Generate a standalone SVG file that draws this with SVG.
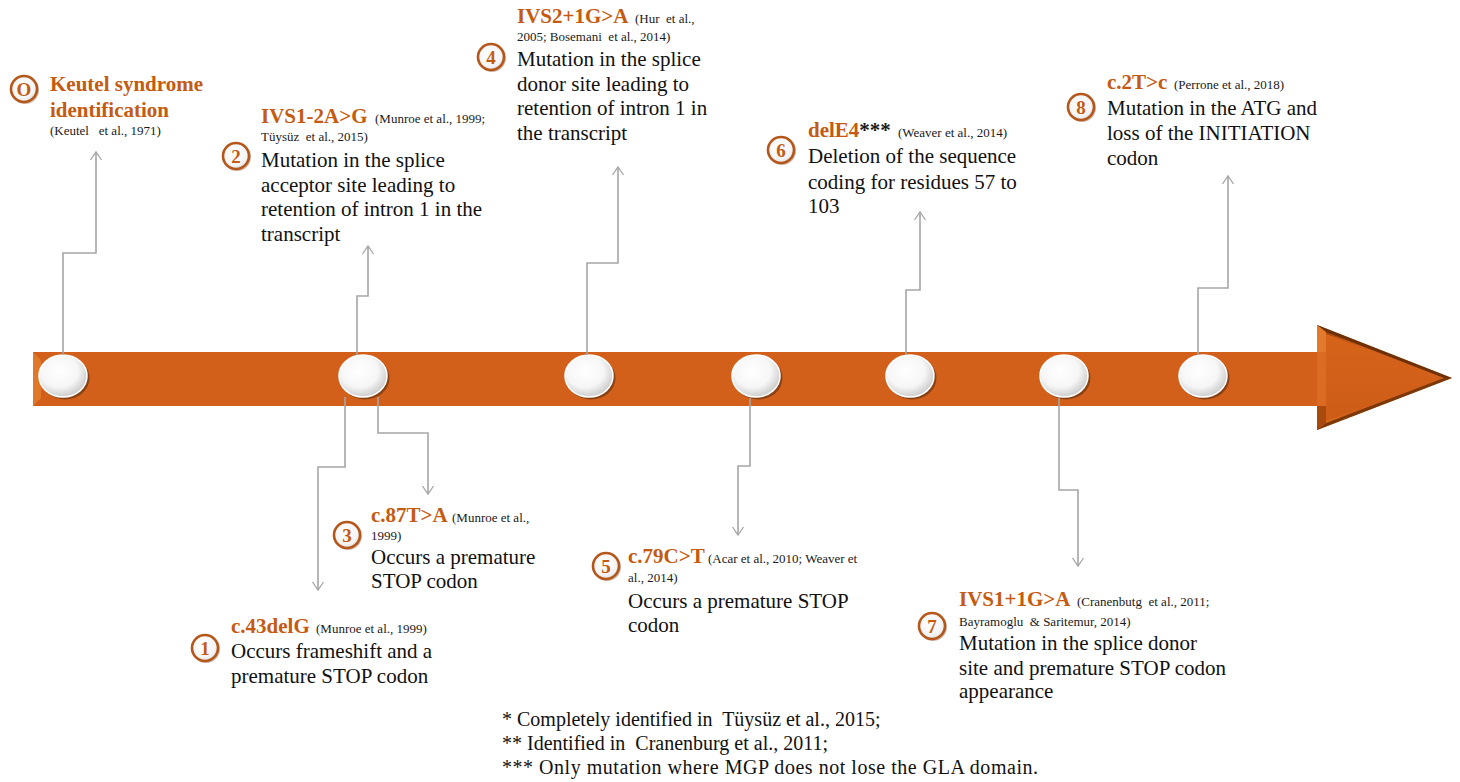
<svg xmlns="http://www.w3.org/2000/svg" width="1460" height="782" viewBox="0 0 1460 782">
<defs>
<linearGradient id="barG" x1="0" y1="0" x2="0" y2="1">
<stop offset="0" stop-color="#7A3608"/>
<stop offset="0.12" stop-color="#B9520F"/>
<stop offset="0.25" stop-color="#D2601A"/>
<stop offset="0.85" stop-color="#D2601A"/>
<stop offset="0.95" stop-color="#E0741E"/>
<stop offset="1" stop-color="#9A4510"/>
</linearGradient>
<linearGradient id="headG" x1="0" y1="0" x2="0" y2="1">
<stop offset="0" stop-color="#D66318"/>
<stop offset="0.5" stop-color="#D2601A"/>
<stop offset="1" stop-color="#CC5C16"/>
</linearGradient>
<radialGradient id="pearl" cx="0.42" cy="0.38" r="0.65">
<stop offset="0" stop-color="#FFFFFF"/>
<stop offset="0.6" stop-color="#F6F6F6"/>
<stop offset="1" stop-color="#C8C8C8"/>
</radialGradient>
<radialGradient id="badgeG" cx="0.45" cy="0.4" r="0.65">
<stop offset="0" stop-color="#FFFFFF"/>
<stop offset="0.7" stop-color="#F4F4F4"/>
<stop offset="1" stop-color="#D6D6D6"/>
</radialGradient>
<marker id="ah" markerWidth="14" markerHeight="14" viewBox="-11 -7 14 14" refX="0" refY="0" orient="auto" markerUnits="userSpaceOnUse">
<path d="M-8,-5.5 L0,0 L-8,5.5" fill="none" stroke="#A6A6A6" stroke-width="1.3"/>
</marker>
</defs>
<style>
.conn{fill:none;stroke:#A6A6A6;stroke-width:1.6;marker-end:url(#ah)}
.pearl{fill:url(#pearl);stroke:#FFFFFF;stroke-width:1.5}
.pshadow{fill:#4A2A10;opacity:0.55}
.bring{fill:url(#badgeG);stroke:#B5571A;stroke-width:2.6}
.bsh{fill:#6B3A18;opacity:0.35}
.bnum{font-family:"Liberation Serif",serif;font-weight:bold;font-size:19px;fill:#C55A11;text-anchor:middle}
.title{font-family:"Liberation Serif",serif;font-weight:bold;font-size:21px;fill:#C55A11}
.cite{font-family:"Liberation Serif",serif;font-size:13px;fill:#1A1A1A}
.body{font-family:"Liberation Serif",serif;font-size:21px;fill:#111111}
.foot{font-family:"Liberation Serif",serif;font-size:20px;fill:#111111}
</style>
<rect width="1460" height="782" fill="#FFFFFF"/>

<g id="timeline-arrow">
<path d="M33,352 H1317 V325 L1452,378 L1317,430 V406 H33 Z" fill="url(#barG)"/>
<path d="M1326,334 L1443,378 L1326,421 Z" fill="url(#headG)"/>
<path d="M1317,325 L1452,378 L1444,378 L1326,332 Z" fill="#6E3006"/>
<path d="M1317,430 L1452,378 L1444,378 L1326,423 Z" fill="#7C3808"/>
<path d="M1317,325 V352 L1326,360 V332 Z" fill="#E27A2C"/>
<path d="M1317,430 V406 L1326,398 V423 Z" fill="#A84A0E"/>
<rect x="1317" y="352" width="9" height="54" fill="#DB6A22"/>
<path d="M33,352 L41,360 V398 L33,406 Z" fill="#E0782A"/>
</g>

<g id="circles">
<ellipse class="pshadow" cx="65" cy="378" rx="24.5" ry="21.5"/>
<ellipse class="pearl" cx="63" cy="376" rx="24" ry="21"/>
<ellipse class="pshadow" cx="365" cy="378" rx="24.5" ry="21.5"/>
<ellipse class="pearl" cx="363" cy="376" rx="24" ry="21"/>
<ellipse class="pshadow" cx="591" cy="378" rx="24.5" ry="21.5"/>
<ellipse class="pearl" cx="589" cy="376" rx="24" ry="21"/>
<ellipse class="pshadow" cx="758" cy="378" rx="24.5" ry="21.5"/>
<ellipse class="pearl" cx="756" cy="376" rx="24" ry="21"/>
<ellipse class="pshadow" cx="912" cy="378" rx="24.5" ry="21.5"/>
<ellipse class="pearl" cx="910" cy="376" rx="24" ry="21"/>
<ellipse class="pshadow" cx="1066" cy="378" rx="24.5" ry="21.5"/>
<ellipse class="pearl" cx="1064" cy="376" rx="24" ry="21"/>
<ellipse class="pshadow" cx="1205" cy="378" rx="24.5" ry="21.5"/>
<ellipse class="pearl" cx="1203" cy="376" rx="24" ry="21"/>
</g>

<g id="connectors">
<path class="conn" d="M63,355 V253 H96 V152"/>
<path class="conn" d="M357,355 V296 H368 V246"/>
<path class="conn" d="M345,397 V467 H318 V590"/>
<path class="conn" d="M378,397 V433 H428 V494"/>
<path class="conn" d="M587,355 V263 H618 V167"/>
<path class="conn" d="M750,398 V466 H738 V535"/>
<path class="conn" d="M906,355 V290 H920 V212"/>
<path class="conn" d="M1059,398 V490 H1078 V566"/>
<path class="conn" d="M1198,355 V288 H1228 V176"/>
</g>

<g id="node-0">
<circle class="bsh" cx="25" cy="90" r="14"/>
<circle class="bring" cx="24" cy="89" r="13"/>
<text class="bnum" x="24" y="96">O</text>
<text class="title" x="50" y="91">Keutel syndrome</text>
<text class="title" x="50" y="117">identification</text>
<text class="cite" x="50" y="135" xml:space="preserve">(Keutel   et al., 1971)</text>
</g>

<g id="node-2">
<circle class="bsh" cx="237" cy="157" r="14"/>
<circle class="bring" cx="236" cy="156" r="13"/>
<text class="bnum" x="236" y="163">2</text>
<text class="title" x="261" y="123">IVS1-2A&gt;G</text>
<text class="cite" x="375" y="123">(Munroe et al., 1999;</text>
<text class="cite" x="261" y="141" xml:space="preserve">Tüysüz  et al., 2015)</text>
<text class="body" x="261" y="167">Mutation in the splice</text>
<text class="body" x="261" y="192">acceptor site leading to</text>
<text class="body" x="261" y="216">retention of intron 1 in the</text>
<text class="body" x="261" y="241">transcript</text>
</g>

<g id="node-4">
<circle class="bsh" cx="492" cy="58" r="14"/>
<circle class="bring" cx="491" cy="57" r="13"/>
<text class="bnum" x="491" y="64">4</text>
<text class="title" x="517" y="23">IVS2+1G&gt;A</text>
<text class="cite" x="635" y="23" xml:space="preserve">(Hur  et al.,</text>
<text class="cite" x="517" y="41" xml:space="preserve">2005; Bosemani  et al., 2014)</text>
<text class="body" x="517" y="66">Mutation in the splice</text>
<text class="body" x="517" y="91">donor site leading to</text>
<text class="body" x="517" y="115">retention of intron 1 in</text>
<text class="body" x="517" y="140">the transcript</text>
</g>

<g id="node-6">
<circle class="bsh" cx="782" cy="151" r="14"/>
<circle class="bring" cx="781" cy="150" r="13"/>
<text class="bnum" x="781" y="157">6</text>
<text class="title" x="808" y="137">delE4<tspan fill="#1A1A1A">***</tspan></text>
<text class="cite" x="898" y="137">(Weaver et al., 2014)</text>
<text class="body" x="808" y="163">Deletion of the sequence</text>
<text class="body" x="808" y="189">coding for residues 57 to</text>
<text class="body" x="808" y="213">103</text>
</g>

<g id="node-8">
<circle class="bsh" cx="1082" cy="108" r="14"/>
<circle class="bring" cx="1081" cy="107" r="13"/>
<text class="bnum" x="1081" y="114">8</text>
<text class="title" x="1107" y="89">c.2T&gt;c</text>
<text class="cite" x="1174" y="89">(Perrone et al., 2018)</text>
<text class="body" x="1107" y="115">Mutation in the ATG and</text>
<text class="body" x="1107" y="140">loss of the INITIATION</text>
<text class="body" x="1107" y="165">codon</text>
</g>

<g id="node-1">
<circle class="bsh" cx="206" cy="649" r="14"/>
<circle class="bring" cx="205" cy="648" r="13"/>
<text class="bnum" x="205" y="655">1</text>
<text class="title" x="231" y="633">c.43delG</text>
<text class="cite" x="316" y="633">(Munroe et al., 1999)</text>
<text class="body" x="231" y="658">Occurs frameshift and a</text>
<text class="body" x="231" y="683">premature STOP codon</text>
</g>

<g id="node-3">
<circle class="bsh" cx="348" cy="536" r="14"/>
<circle class="bring" cx="347" cy="535" r="13"/>
<text class="bnum" x="347" y="542">3</text>
<text class="title" x="371" y="522">c.87T&gt;A</text>
<text class="cite" x="452" y="522">(Munroe et al.,</text>
<text class="cite" x="371" y="540">1999)</text>
<text class="body" x="371" y="564">Occurs a premature</text>
<text class="body" x="371" y="588">STOP codon</text>
</g>

<g id="node-5">
<circle class="bsh" cx="607" cy="567" r="14"/>
<circle class="bring" cx="606" cy="566" r="13"/>
<text class="bnum" x="606" y="573">5</text>
<text class="title" x="628" y="563">c.79C&gt;T</text>
<text class="cite" x="708" y="563">(Acar et al., 2010; Weaver et</text>
<text class="cite" x="628" y="582">al., 2014)</text>
<text class="body" x="628" y="608">Occurs a premature STOP</text>
<text class="body" x="628" y="632">codon</text>
</g>

<g id="node-7">
<circle class="bsh" cx="933" cy="627" r="14"/>
<circle class="bring" cx="932" cy="626" r="13"/>
<text class="bnum" x="932" y="633">7</text>
<text class="title" x="959" y="606">IVS1+1G&gt;A</text>
<text class="cite" x="1077" y="606" xml:space="preserve">(Cranenbutg  et al., 2011;</text>
<text class="cite" x="959" y="626" xml:space="preserve">Bayramoglu  &amp; Saritemur, 2014)</text>
<text class="body" x="959" y="650">Mutation in the splice donor</text>
<text class="body" x="959" y="675">site and premature STOP codon</text>
<text class="body" x="959" y="698">appearance</text>
</g>

<g id="footnotes">
<text class="foot" x="502" y="726" xml:space="preserve">* Completely identified in  Tüysüz et al., 2015;</text>
<text class="foot" x="502" y="750" xml:space="preserve">** Identified in  Cranenburg et al., 2011;</text>
<text class="foot" x="502" y="774" textLength="536" lengthAdjust="spacing">*** Only mutation where MGP does not lose the GLA domain.</text>
</g>
</svg>
